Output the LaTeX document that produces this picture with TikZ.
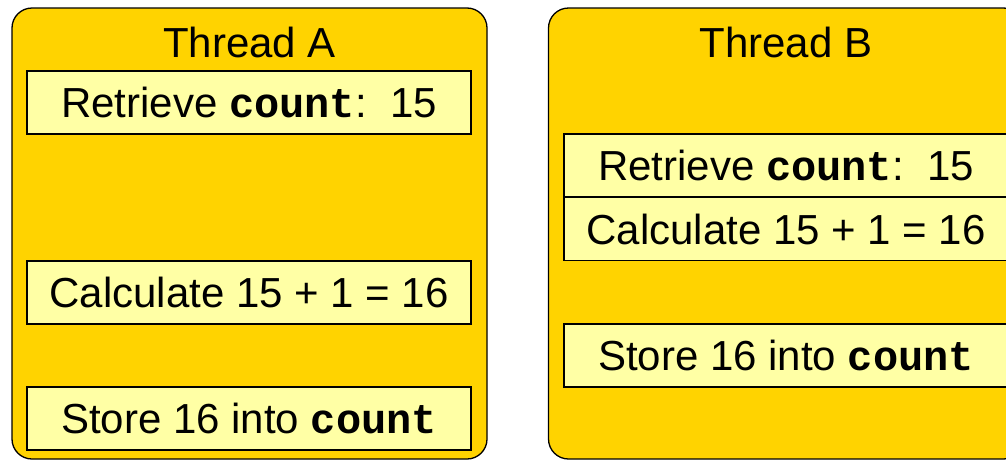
\documentclass[tikz,border=0pt]{standalone}
\usepackage{fontspec}
\setmainfont{Liberation Sans}
\setmonofont{Liberation Mono}
\definecolor{gold}{RGB}{255,211,0}
\definecolor{pale}{RGB}{255,255,165}
\newcommand{\cnt}{\texttt{\bfseries count}}
\begin{document}
\begin{tikzpicture}[x=1pt,y=-1pt,
  thread/.style={draw=black,line width=1.3pt,fill=gold,rounded corners=20pt,minimum width=475pt,minimum height=451pt,inner sep=0pt},
  stepbox/.style={draw=black,line width=1.3pt,fill=pale,minimum width=444pt,minimum height=63pt,inner sep=0pt,font=\fontsize{42pt}{46pt}\selectfont},
  title/.style={inner sep=0pt,font=\fontsize{42pt}{46pt}\selectfont}]
\useasboundingbox (0,0) rectangle (1006,461);
\clip (0,0) rectangle (1006,461);
\node[thread] (A) at (249.5,233.5) {};
\node[thread] (B) at (786,233.5) {};
\node[title,anchor=base] (ta) at (249.5,57) {Thread A};
\node[title,anchor=base] (tb) at (786,57) {Thread B};
\node[stepbox] (a1) at (249,102.5) {Retrieve \cnt:~~15};
\node[stepbox] (a2) at (249,292.5) {Calculate 15 + 1 = 16};
\node[stepbox] (a3) at (249,418.5) {Store 16 into \cnt};
\node[stepbox] (b1) at (786,165.5) {Retrieve \cnt:~~15};
\node[stepbox] (b2) at (786,229) {Calculate 15 + 1 = 16};
\node[stepbox] (b3) at (786,355.5) {Store 16 into \cnt};
\end{tikzpicture}
\end{document}
